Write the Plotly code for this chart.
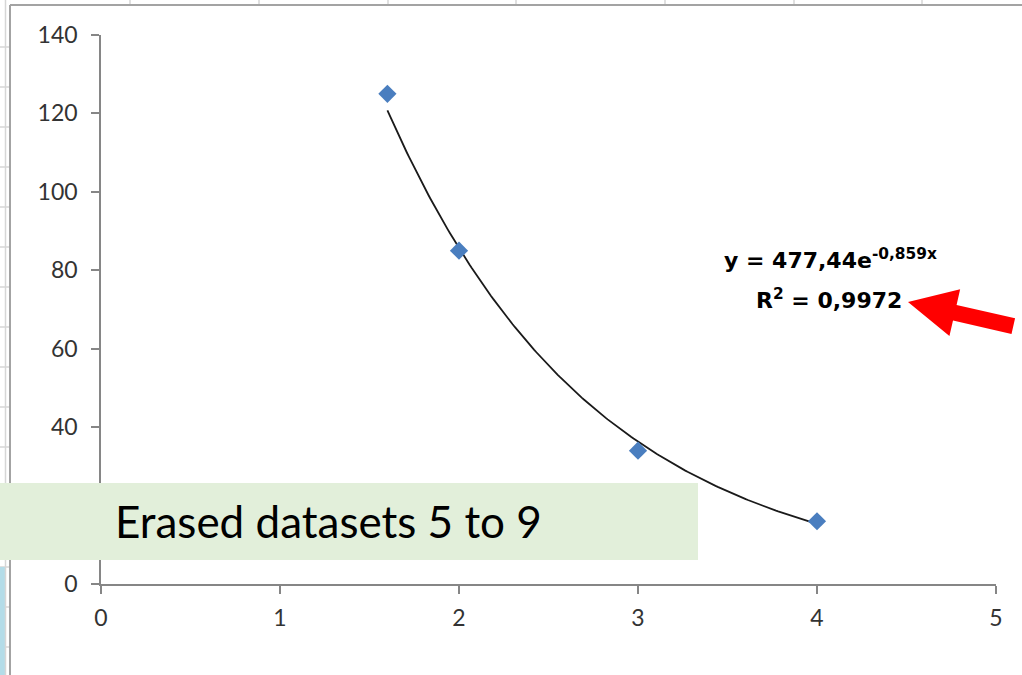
import numpy as np
import plotly.graph_objects as go

# Measured data points
x_vals = [1.6, 2, 3, 4]
y_vals = [125, 85, 34, 16]

# Exponential trendline y = a * exp(b * x)
trend_a = 477.44
trend_b = -0.859
trend_x_start = 1.6
trend_x_end = 4.0

x_ticks = [0, 1, 2, 3, 4, 5]
y_ticks = [0, 20, 40, 60, 80, 100, 120, 140]

W, H = 1022, 675


def px(x):
    return x / W


def py(y):
    return 1 - y / H


trend_x = np.linspace(trend_x_start, trend_x_end, 200)
trend_y = trend_a * np.exp(trend_b * trend_x)

fig = go.Figure()
fig.add_trace(go.Scatter(
    x=trend_x, y=trend_y, mode="lines",
    line=dict(color="#1a1a1a", width=1.8),
    hoverinfo="skip", showlegend=False,
))
fig.add_trace(go.Scatter(
    x=x_vals, y=y_vals, mode="markers",
    marker=dict(symbol="diamond", size=14, color="#4A7EBF"),
    showlegend=False,
))

shapes = []
# spreadsheet cell lines around the chart frame
grid_col = "#D6D6D6"
for cx in [130, 259, 388, 516, 665, 794, 922]:
    shapes.append(dict(type="line", xref="paper", yref="paper",
                       x0=px(cx), x1=px(cx), y0=py(0), y1=py(5),
                       line=dict(color=grid_col, width=1.5)))
for ry in range(47, 675, 40):
    shapes.append(dict(type="line", xref="paper", yref="paper",
                       x0=px(0), x1=px(10), y0=py(ry), y1=py(ry),
                       line=dict(color=grid_col, width=1.5)))
shapes.append(dict(type="rect", xref="paper", yref="paper",
                   x0=px(0), x1=px(5), y0=py(567), y1=py(675),
                   line=dict(width=0), fillcolor="#B4DCE8"))
shapes.append(dict(type="line", xref="paper", yref="paper",
                   x0=px(5.5), x1=px(5.5), y0=py(0), y1=py(675),
                   line=dict(color=grid_col, width=1.5)))
# chart frame
shapes.append(dict(type="line", xref="paper", yref="paper",
                   x0=px(10), x1=px(10), y0=py(5), y1=py(675),
                   line=dict(color="#A3A3A3", width=2)))
shapes.append(dict(type="line", xref="paper", yref="paper",
                   x0=px(10), x1=px(1022), y0=py(5), y1=py(5),
                   line=dict(color="#A3A3A3", width=2)))

# green caption box
shapes.append(dict(type="rect", xref="paper", yref="paper",
                   x0=px(0), x1=px(698), y0=py(483), y1=py(560),
                   line=dict(width=0), fillcolor="#E2EFDA", layer="above"))

# red block arrow pointing at the fit statistics
tip = np.array([908.0, 302.0])
tail = np.array([1013.3, 326.1])
u = (tail - tip) / np.linalg.norm(tail - tip)
n = np.array([-u[1], u[0]])
head_len, head_half, shaft_half = 48, 24, 8
base = tip + head_len * u
pts = [tip, base - head_half * n, base - shaft_half * n,
       tail - shaft_half * n, tail + shaft_half * n,
       base + shaft_half * n, base + head_half * n]
path = "M " + " L ".join(f"{px(p[0]):.5f},{py(p[1]):.5f}" for p in pts) + " Z"
shapes.append(dict(type="path", xref="paper", yref="paper", path=path,
                   fillcolor="#FF0000", line=dict(width=0), layer="above"))

annotations = [
    dict(xref="paper", yref="paper", x=px(113), y=py(521),
         xanchor="left", yanchor="middle", showarrow=False,
         text="Erased datasets 5 to 9",
         font=dict(family="Lato", size=44, color="#000000")),
    dict(xref="paper", yref="paper", x=px(830), y=py(259),
         xanchor="center", yanchor="middle", showarrow=False,
         text="<b>y = 477,44e<sup>-0,859x</sup></b>",
         font=dict(family="DejaVu Sans", size=22, color="#000000")),
    dict(xref="paper", yref="paper", x=px(829), y=py(299),
         xanchor="center", yanchor="middle", showarrow=False,
         text="<b>R<sup>2</sup> = 0,9972</b>",
         font=dict(family="DejaVu Sans", size=22, color="#000000")),
]

axis_common = dict(
    showline=True, linecolor="#868686", linewidth=1.5,
    ticks="outside", ticklen=8, tickcolor="#868686", tickwidth=1.5,
    showgrid=False, zeroline=False, automargin=False,
    tickfont=dict(family="Lato", size=23, color="#333333"),
)

fig.update_layout(
    width=W, height=H,
    margin=dict(l=0, r=0, t=0, b=0, pad=0),
    paper_bgcolor="white", plot_bgcolor="white",
    showlegend=False,
    xaxis=dict(range=[0, 5], tickvals=x_ticks, domain=[px(101), px(996)],
               ticklabelstandoff=5, **axis_common),
    yaxis=dict(range=[0, 140], tickvals=y_ticks, domain=[py(584), py(35)],
               ticklabelstandoff=9, **axis_common),
    shapes=shapes,
    annotations=annotations,
)

fig.write_html("out.html")
